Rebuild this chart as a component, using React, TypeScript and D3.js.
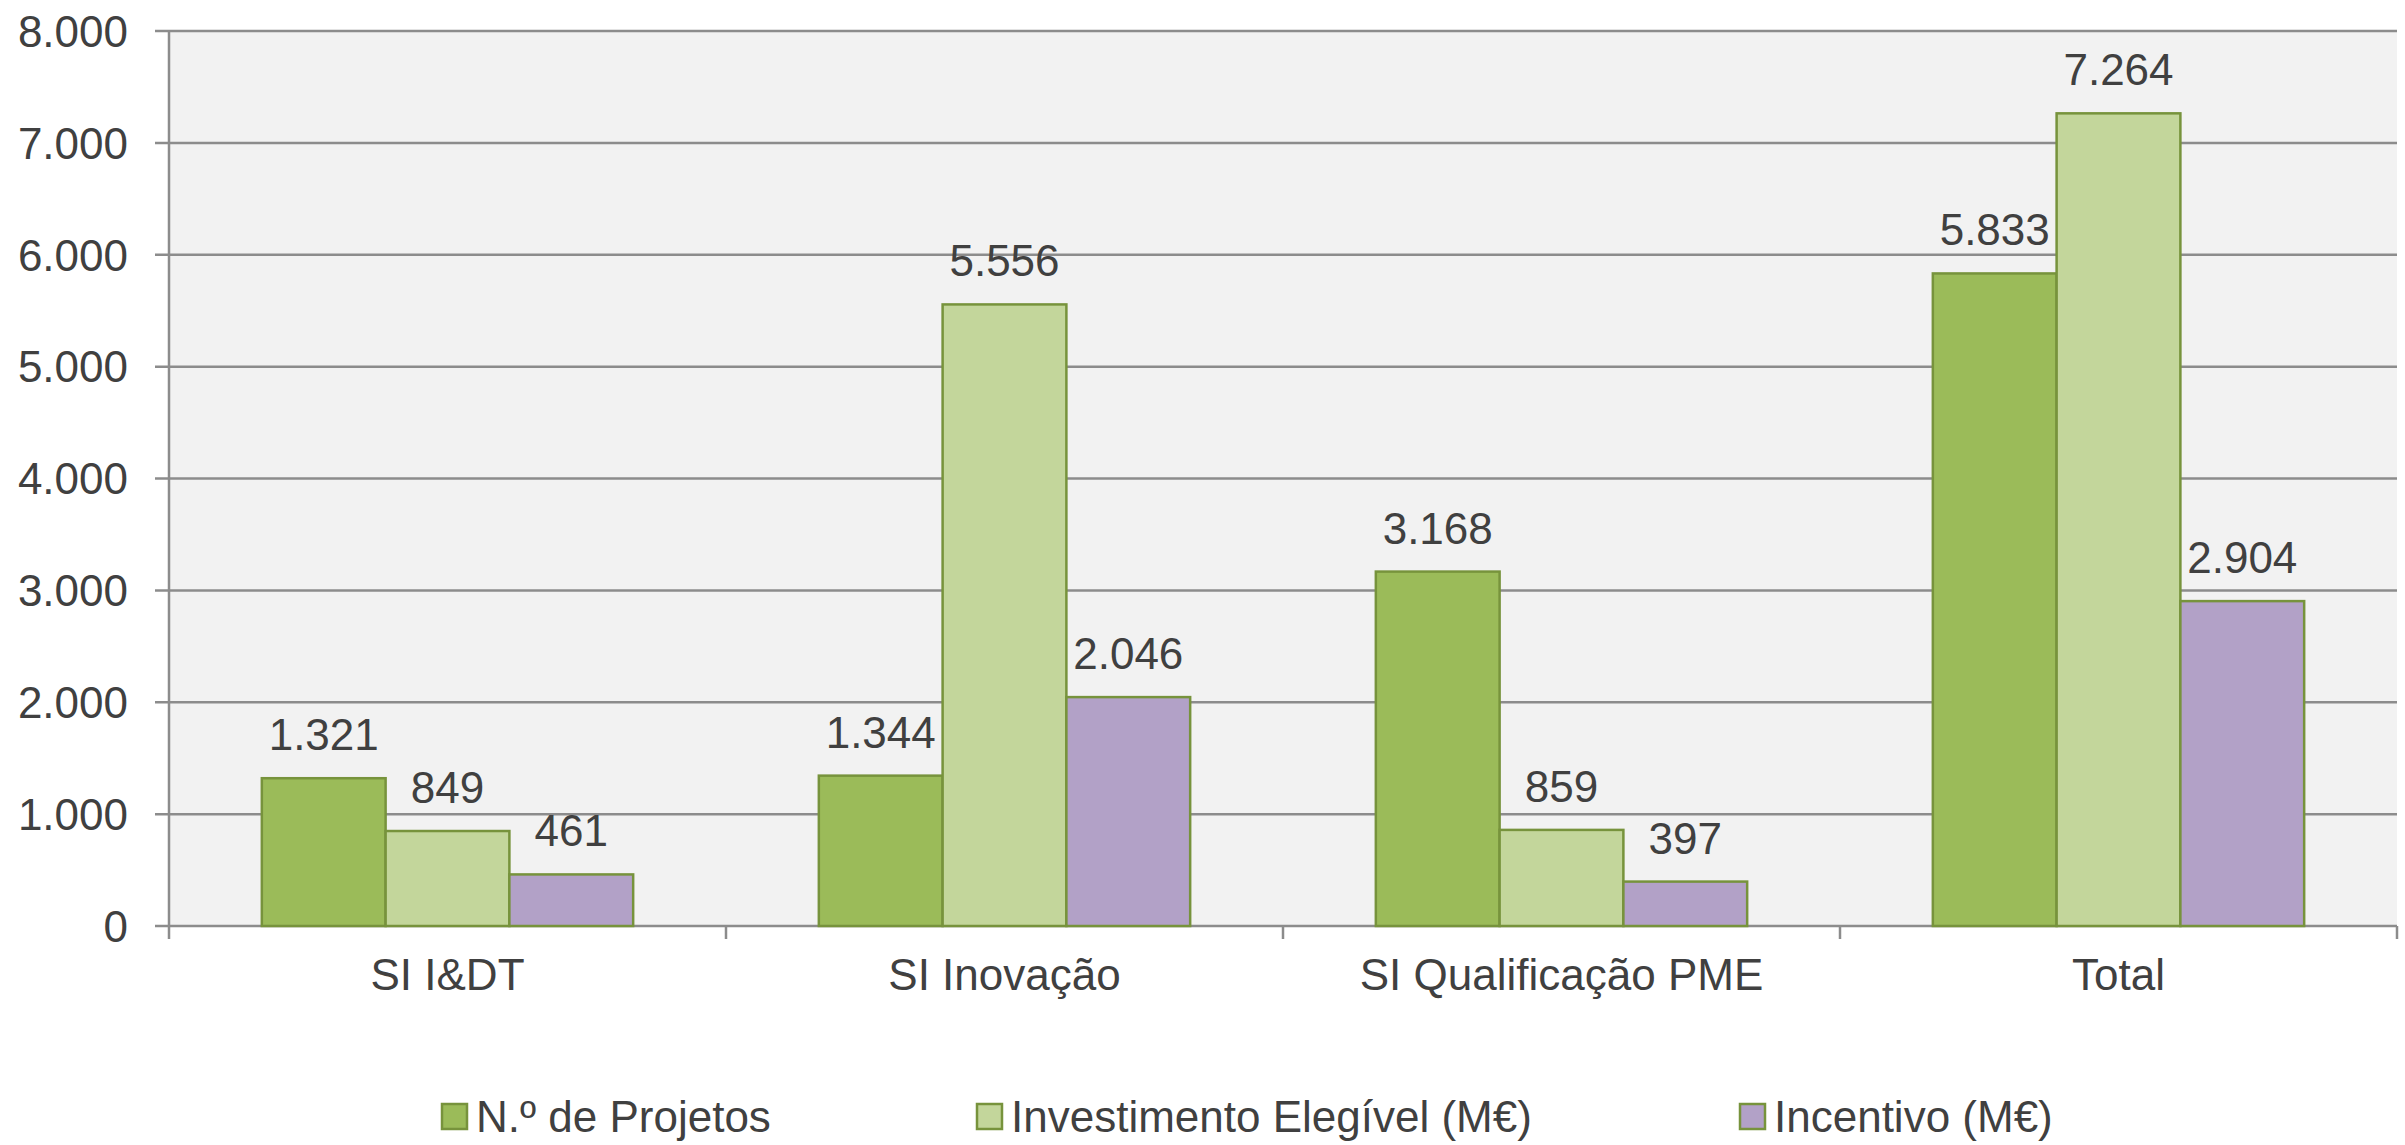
import React from "react";
import * as d3 from "d3";

const categories = ["SI I&DT", "SI Inovação", "SI Qualificação PME", "Total"];
const seriesNames = ["N.º de Projetos", "Investimento Elegível (M€)", "Incentivo (M€)"];
const projetos = [1321, 1344, 3168, 5833];
const investimento = [849, 5556, 859, 7264];
const incentivo = [461, 2046, 397, 2904];
const yTicks = [0, 1000, 2000, 3000, 4000, 5000, 6000, 7000, 8000];

const seriesValues = [projetos, investimento, incentivo];
const colors = ["#9bbb59", "#c3d69b", "#b2a1c7"];
const strokeColor = "#77933c";
const textColor = "#404040";
const gridColor = "#8c8c8c";
const FONT = "'Liberation Sans', Arial, Helvetica, sans-serif";
const FS = 44;

const W = 2405;
const H = 1145;
const left = 169;
const right = 2397;
const top = 31;
const bottom = 926;

const pt = d3.formatLocale({ decimal: ",", thousands: ".", grouping: [3], currency: ["", "€"] });
const fmt = pt.format(",d");

export default function App() {
  const x0 = d3.scaleBand<string>().domain(categories).range([left, right]).padding(0);
  const step = x0.step();
  const groupW = (step * 3) / 4.5;
  const off = (step - groupW) / 2;
  const x1 = d3.scaleBand<string>().domain(seriesNames).range([off, off + groupW]).padding(0);
  const y = d3.scaleLinear().domain([0, 8000]).range([bottom, top]);

  const legendX = [441, 976, 1739];

  return (
    <div style={{ position: "absolute", left: 0, top: 0, width: W, height: H, background: "#fff" }}>
      <svg width={W} height={H} style={{ display: "block", fontFamily: FONT }}>
        <rect x={left} y={top} width={right - left} height={bottom - top} fill="#f2f2f2" />
        {yTicks.map((t) => (
          <g key={t}>
            <line x1={left - 14} x2={right} y1={y(t)} y2={y(t)} stroke={gridColor} strokeWidth={2.5} />
            <text x={128} y={y(t)} dy="0.36em" textAnchor="end" fontSize={FS} fill={textColor}>
              {fmt(t)}
            </text>
          </g>
        ))}
        <line x1={left} x2={left} y1={top} y2={bottom + 13} stroke={gridColor} strokeWidth={2.5} />
        {categories.map((c, i) => (
          <line key={"t" + i} x1={(x0(c) as number) + step} x2={(x0(c) as number) + step} y1={bottom} y2={bottom + 13} stroke={gridColor} strokeWidth={2.5} />
        ))}
        {categories.map((c, ci) => (
          <g key={c} transform={`translate(${x0(c)},0)`}>
            {seriesNames.map((s, si) => {
              const v = seriesValues[si][ci];
              const bx = x1(s) as number;
              const bw = x1.bandwidth();
              return (
                <g key={s}>
                  <rect x={bx} y={y(v)} width={bw} height={bottom - y(v)} fill={colors[si]} stroke={strokeColor} strokeWidth={2.5} />
                  <text x={bx + bw / 2} y={y(v) - 28} textAnchor="middle" fontSize={FS} fill={textColor}>
                    {fmt(v)}
                  </text>
                </g>
              );
            })}
            <text x={step / 2} y={990} textAnchor="middle" fontSize={FS} fill={textColor}>
              {c}
            </text>
          </g>
        ))}
        {seriesNames.map((s, i) => (
          <g key={"lg" + i} transform={`translate(${legendX[i]},0)`}>
            <rect x={1} y={1104} width={25} height={25} fill={colors[i]} stroke={strokeColor} strokeWidth={2.5} />
            <text x={35} y={1132} fontSize={FS} fill={textColor}>
              {s}
            </text>
          </g>
        ))}
      </svg>
    </div>
  );
}
